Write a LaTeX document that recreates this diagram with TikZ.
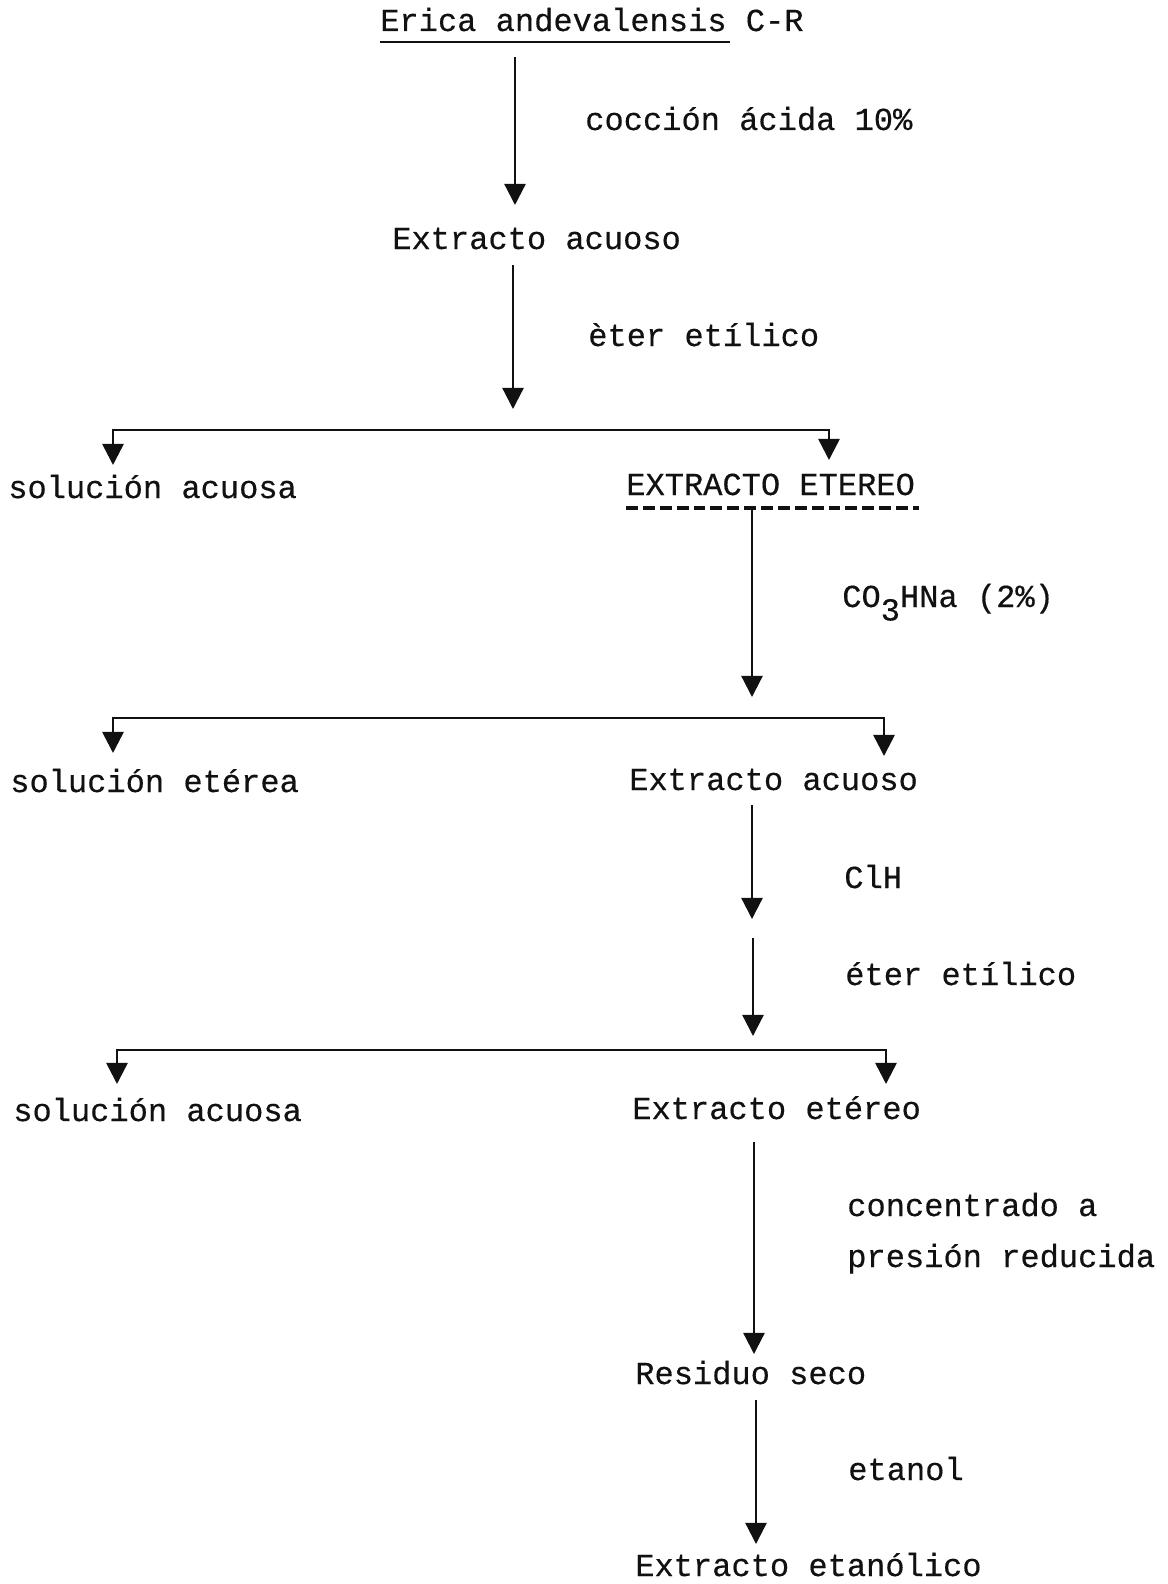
\documentclass[tikz,border=0pt]{standalone}
\usepackage{fontspec}
\setmainfont[UprightFeatures={FakeBold=0.4}]{Liberation Mono}
\usepackage{tikz}
\usetikzlibrary{arrows.meta,calc}
\definecolor{ink}{HTML}{111111}
\definecolor{paper}{HTML}{FFFFFF}
\tikzset{
  flow/.style={draw=ink, line width=1.6pt, -{Triangle[width=15pt,length=15pt]}},
  split/.style={draw=ink, line width=1.8pt, {Triangle[width=15pt,length=15pt]}-{Triangle[width=15pt,length=15pt]}},
  uline/.style={draw=ink, line width=1.8pt},
  dline/.style={draw=ink, line width=2.4pt, dash pattern=on 8.5pt off 3.5pt},
  lab/.style={text=ink, anchor=base west, inner sep=0pt, font=\fontsize{22.8}{27}\selectfont}
}

\begin{document}
\begin{tikzpicture}[x=0.025cm, y=-0.025cm]
  \fill[paper] (0,0) rectangle (1167,1584);
  \useasboundingbox (0,0) rectangle (1167,1584);

  % Products
  \node[lab] (plant) at (380,31) {Erica andevalensis C-R};
  \node[lab] (acuo1) at (392,249) {Extracto acuoso};
  \node[lab] (solA1) at (8,498) {solución acuosa};
  \node[lab] (eter1) at (626,495) {EXTRACTO ETEREO};
  \node[lab] (solE) at (10,792) {solución etérea};
  \node[lab] (acuo2) at (629,790) {Extracto acuoso};
  \node[lab] (solA2) at (13,1121) {solución acuosa};
  \node[lab] (eter2) at (632,1119) {Extracto etéreo};
  \node[lab] (resid) at (635,1384) {Residuo seco};
  \node[lab] (etoh) at (635,1576) {Extracto etanólico};

  % Steps
  \node[lab] (s1) at (585,130) {cocción ácida 10\%};
  \node[lab] (s2) at (588,346) {èter etílico};
  \node[lab] (s3) at (842,607) {CO\raisebox{-0.42em}{3}HNa (2\%)};
  \node[lab] (s4) at (844,888) {ClH};
  \node[lab] (s5) at (845,985) {éter etílico};
  \node[lab] (s6) at (847,1216) {concentrado a};
  \node[lab] (s6b) at (847,1267) {presión reducida};
  \node[lab] (s7) at (848,1480) {etanol};

  % Underlines
  \draw[uline] ($(plant.base west)+(0,11)$) -- ++(350,0);
  \draw[dline] ($(eter1.base west)+(0,13)$) coordinate (dl) -- ++(293,0);

  % Arrow ends
  \coordinate (a1s) at (515,57);   \coordinate (a1e) at (515,205);
  \coordinate (a2s) at (513,265);  \coordinate (a2e) at (513,409);
  \coordinate (a3s) at (752,508);  \coordinate (a3e) at (752,697);
  \coordinate (a4s) at (752,805);  \coordinate (a4e) at (752,919);
  \coordinate (a5s) at (753,938);  \coordinate (a5e) at (753,1036);
  \coordinate (a6s) at (754,1142); \coordinate (a6e) at (754,1354);
  \coordinate (a7s) at (756,1400); \coordinate (a7e) at (756,1544);

  \draw[flow] (a1s) -- (a1e);
  \draw[flow] (a2s) -- (a2e);
  \draw[flow] (a3s) -- (a3e);
  \draw[flow] (a4s) -- (a4e);
  \draw[flow] (a5s) -- (a5e);
  \draw[flow] (a6s) -- (a6e);
  \draw[flow] (a7s) -- (a7e);

  % Splits
  \coordinate (b1l) at (113,430);  \coordinate (b1r) at (829,430);
  \coordinate (b2l) at (113,718);  \coordinate (b2r) at (884,718);
  \coordinate (b3l) at (117,1050); \coordinate (b3r) at (886,1050);
  \draw[split] (b1l |- 0,465) -- (b1l) -- (b1r) -- (b1r |- 0,460);
  \draw[split] (b2l |- 0,753) -- (b2l) -- (b2r) -- (b2r |- 0,756);
  \draw[split] (b3l |- 0,1084) -- (b3l) -- (b3r) -- (b3r |- 0,1084);
\end{tikzpicture}
\end{document}
